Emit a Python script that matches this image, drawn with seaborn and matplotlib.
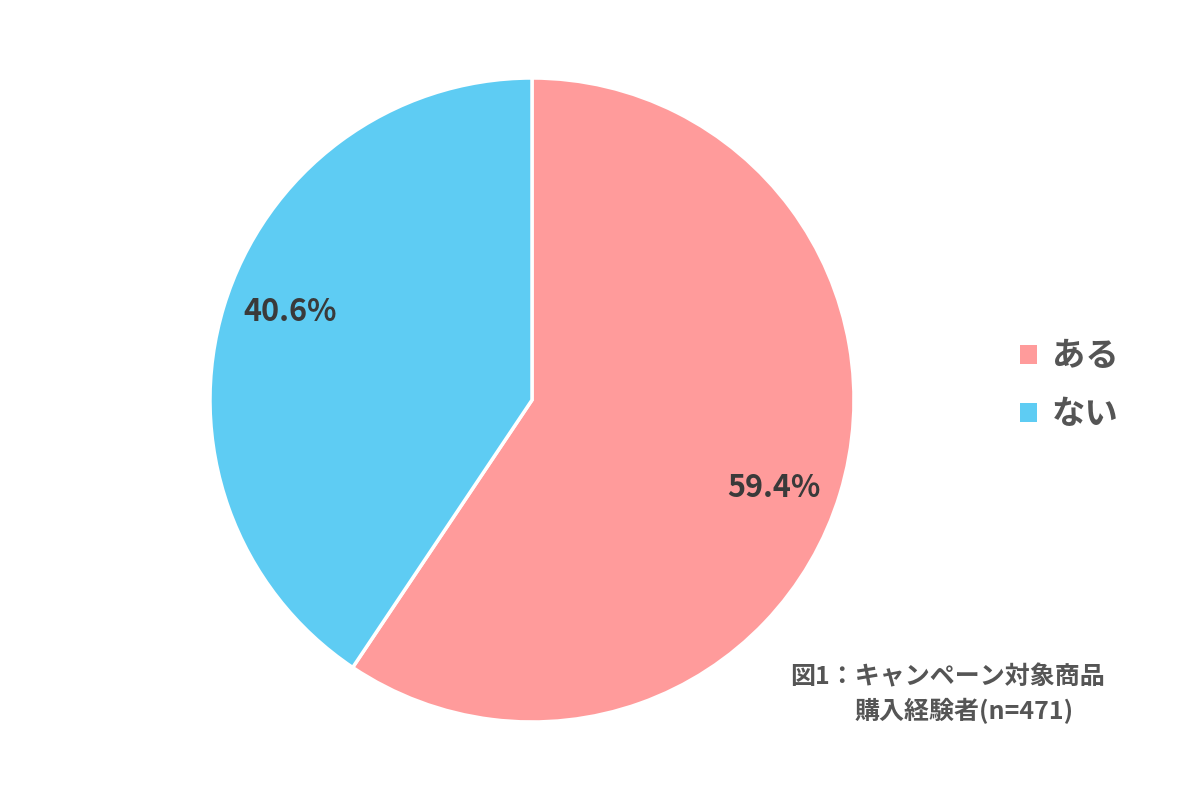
import matplotlib
matplotlib.use('Agg')
import numpy as np
import matplotlib.pyplot as plt
from matplotlib.patches import Patch
import seaborn as sns

# データ
labels = ['ある', 'ない']
values = [59.4, 40.6]
colors = ['#FF9B9B', '#5ECCF3']
caption_1 = '図1：キャンペーン対象商品'
caption_2 = '購入経験者(n=471)'

sns.set_theme(style='white')
plt.rcParams['font.family'] = ['Noto Sans CJK JP', 'DejaVu Sans']

fig = plt.figure(figsize=(12, 8), dpi=100)
ax = fig.add_axes([210 / 1200, 78 / 800, 644 / 1200, 644 / 800])

wedges, texts, autotexts = ax.pie(
    values, colors=colors, startangle=90, counterclock=False,
    autopct='%.1f%%', pctdistance=0.8, radius=1,
    wedgeprops=dict(edgecolor='white', linewidth=2.5),
    textprops=dict(fontsize=22, fontweight='bold', color='#3a3a3a'))

# ラベル位置を少し時計回りにずらす
for w, t in zip(wedges, autotexts):
    ang = np.deg2rad((w.theta1 + w.theta2) / 2 - 3)
    t.set_position((0.8 * np.cos(ang), 0.8 * np.sin(ang)))

ax.set_xlim(-1, 1)
ax.set_ylim(-1, 1)
ax.set_aspect('equal')
ax.axis('off')

handles = [Patch(facecolor=c, edgecolor='none') for c in colors]
leg = fig.legend(handles, labels, loc='center left', bbox_to_anchor=(1020 / 1200, 1 - 386 / 800),
                 frameon=False, borderpad=0, borderaxespad=0,
                 handlelength=0.5, handleheight=0.5, handletextpad=0.45,
                 labelspacing=0.75, prop=dict(size=24, weight='bold'))
for t in leg.get_texts():
    t.set_color('#555555')

fig.text(790 / 1200, 1 - 677 / 800, caption_1, fontsize=18, fontweight='bold',
         color='#555555', ha='left', va='center')
fig.text(855 / 1200, 1 - 711 / 800, caption_2, fontsize=18, fontweight='bold',
         color='#555555', ha='left', va='center')

fig.savefig('out.png', dpi=100, facecolor='white')
